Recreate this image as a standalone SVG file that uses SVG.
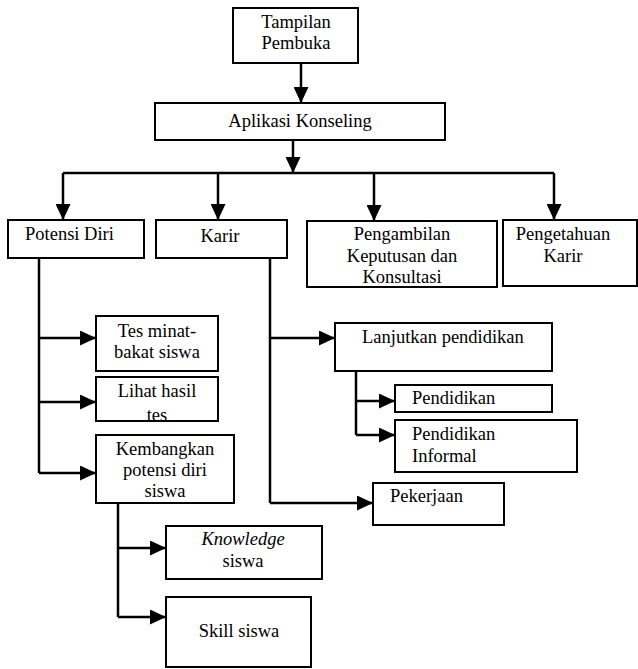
<svg xmlns="http://www.w3.org/2000/svg" width="638" height="669" viewBox="0 0 638 669">
<style>
.box{fill:#fff;stroke:#000;stroke-width:2}
.t{font-family:'Liberation Serif','Times New Roman',Tinos,'DejaVu Serif',serif;font-size:18.5px;fill:#000}
.c{text-anchor:middle}
.ln{fill:none;stroke:#000;stroke-width:2.5}
.ar{fill:none;stroke:#000;stroke-width:2.5;marker-end:url(#ah)}
</style>
<defs>
<marker id="ah" markerUnits="userSpaceOnUse" markerWidth="16" markerHeight="15" refX="16" refY="7.5" orient="auto">
<path d="M0,0 L16,7.5 L0,15 z" fill="#000"/>
</marker>
<clipPath id="clipLihat"><rect x="96" y="377" width="122" height="44"/></clipPath>
</defs>
<rect width="638" height="669" fill="#fff"/>
<g id="connectors">
<path class="ar" d="M301,63 V103"/>
<path class="ar" d="M293,140 V173"/>
<path class="ln" d="M63,173 H554"/>
<path class="ar" d="M63,173 V220"/>
<path class="ar" d="M218,173 V220"/>
<path class="ar" d="M374,173 V221"/>
<path class="ar" d="M554,173 V220"/>
<path class="ln" d="M39,258 V473"/>
<path class="ar" d="M39,338 H96"/>
<path class="ar" d="M39,402 H96"/>
<path class="ar" d="M39,473 H96"/>
<path class="ln" d="M118,503 V617"/>
<path class="ar" d="M118,548 H166"/>
<path class="ar" d="M118,617 H166"/>
<path class="ln" d="M270,258 V503"/>
<path class="ar" d="M270,338 H335"/>
<path class="ar" d="M270,503 H373"/>
<path class="ln" d="M356,371 V435"/>
<path class="ar" d="M356,401 H395"/>
<path class="ar" d="M356,435 H395"/>
</g>
<g id="tampilan"><rect class="box" x="233" y="8" width="125" height="55"/><text class="t c" x="296" y="28" font-size="17">Tampilan</text><text class="t c" x="296" y="49" font-size="17">Pembuka</text></g>
<g id="aplikasi"><rect class="box" x="155" y="103" width="290" height="37"/><text class="t c" x="300" y="127" font-size="18">Aplikasi Konseling</text></g>
<g id="potensi"><rect class="box" x="8" y="220" width="136" height="38"/><text class="t" x="25" y="240" font-size="17">Potensi Diri</text></g>
<g id="karir"><rect class="box" x="156" y="220" width="131" height="38"/><text class="t c" x="220" y="242" font-size="17.5">Karir</text></g>
<g id="pengambilan"><rect class="box" x="307" y="221" width="190" height="66"/><text class="t c" x="402" y="240">Pengambilan</text><text class="t c" x="402" y="262">Keputusan dan</text><text class="t c" x="402" y="283">Konsultasi</text></g>
<g id="pengetahuan"><rect class="box" x="503" y="220" width="134" height="66"/><text class="t c" x="563" y="240">Pengetahuan</text><text class="t c" x="563" y="262">Karir</text></g>
<g id="tes"><rect class="box" x="96" y="316" width="122" height="55"/><text class="t c" x="157" y="337">Tes minat-</text><text class="t c" x="157" y="358">bakat siswa</text></g>
<g id="lihat"><rect class="box" x="96" y="377" width="122" height="44"/><text class="t c" x="157" y="397">Lihat hasil</text><text class="t c" x="157" y="421" clip-path="url(#clipLihat)">tes</text></g>
<g id="kembangkan"><rect class="box" x="96" y="435" width="138" height="68"/><text class="t c" x="165" y="455">Kembangkan</text><text class="t c" x="165" y="476">potensi diri</text><text class="t c" x="165" y="497">siswa</text></g>
<g id="knowledge"><rect class="box" x="166" y="526" width="156" height="53"/><text class="t c" x="243" y="545" font-style="italic">Knowledge</text><text class="t c" x="243" y="567">siswa</text></g>
<g id="skill"><rect class="box" x="166" y="597" width="145" height="70"/><text class="t c" x="239" y="637">Skill siswa</text></g>
<g id="lanjutkan"><rect class="box" x="335" y="323" width="217" height="48"/><text class="t" x="362" y="343">Lanjutkan pendidikan</text></g>
<g id="pendidikan"><rect class="box" x="395" y="385" width="157" height="27"/><text class="t" x="412" y="404">Pendidikan</text></g>
<g id="informal"><rect class="box" x="395" y="420" width="182" height="52"/><text class="t" x="412" y="440">Pendidikan</text><text class="t" x="412" y="462">Informal</text></g>
<g id="pekerjaan"><rect class="box" x="373" y="483" width="131" height="42"/><text class="t" x="390" y="502">Pekerjaan</text></g>
</svg>
